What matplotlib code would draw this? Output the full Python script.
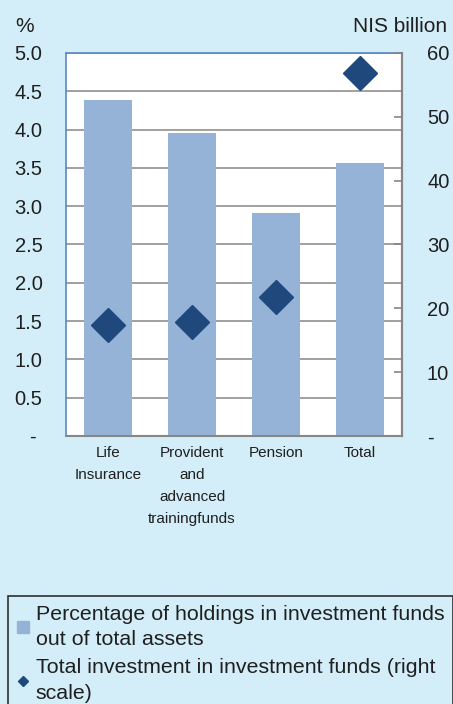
import numpy as np
import matplotlib.pyplot as plt
from matplotlib.lines import Line2D

plt.rcParams['font.family'] = ['Liberation Sans', 'DejaVu Sans']

#Data
categories = ['Life\nInsurance', 'Provident\nand\nadvanced\ntrainingfunds', 'Pension', 'Total']
share_pct = [4.39, 3.96, 2.91, 3.57]          # left scale, %
invest_bn = [17.4, 17.8, 21.7, 56.9]          # right scale, NIS billion
left_ticks = [0, 0.5, 1.0, 1.5, 2.0, 2.5, 3.0, 3.5, 4.0, 4.5, 5.0]
right_ticks = [0, 10, 20, 30, 40, 50, 60]

bg = '#D4EEF9'
bar_col = '#95B3D7'
dia_col = '#1F497D'
grid_col = '#868686'
txt = '#1f1f1f'

fig = plt.figure(figsize=(4.53, 7.04), dpi=100, facecolor=bg)
ax = fig.add_axes([66/453, 1-436/704, 336/453, 383/704])
ax.set_facecolor('white')

x = np.arange(len(categories))
ax.bar(x, share_pct, width=0.57, color=bar_col, zorder=2)
ax.set_xlim(-0.5, len(categories)-0.5)
ax.set_ylim(0, 5)
ax.set_yticks(left_ticks)
ax.set_yticklabels(['- '] + ['{:.1f}'.format(v) for v in left_ticks[1:]], fontsize=14.5, color=txt)
ax.yaxis.grid(True, color=grid_col, linewidth=1.1, zorder=1)
ax.set_axisbelow(True)
ax.tick_params(axis='y', length=0, pad=17)
ax.set_xticks(x)
ax.set_xticklabels(categories, fontsize=11, color=txt, linespacing=1.75)
ax.tick_params(axis='x', length=0, pad=7)

for s in ['left', 'top']:
    ax.spines[s].set_color('#5B87C1')
    ax.spines[s].set_linewidth(1.2)
for s in ['right', 'bottom']:
    ax.spines[s].set_color(grid_col)
    ax.spines[s].set_linewidth(1.5)

ax2 = ax.twinx()
ax2.plot(x, invest_bn, 'D', color=dia_col, markersize=17.5, linestyle='none', zorder=3)
ax2.set_ylim(0, 60)
ax2.set_yticks(right_ticks)
ax2.set_yticklabels(['-'] + [str(v) for v in right_ticks[1:]], fontsize=14.5, color=txt)
ax2.tick_params(axis='y', direction='in', length=6, width=1.2, color=grid_col, pad=18)
for s in ['left', 'top', 'bottom']:
    ax2.spines[s].set_visible(False)
ax2.spines['right'].set_color(grid_col)
ax2.spines['right'].set_linewidth(1.5)

fig.text(15/453, 1-26/704, '%', fontsize=15, color=txt, va='center')
fig.text(447/453, 1-26/704, 'NIS billion', fontsize=15, color=txt, va='center', ha='right')

handles = [
    Line2D([], [], marker='s', color=bar_col, linestyle='none', markersize=8.6),
    Line2D([], [], marker='D', color=dia_col, linestyle='none', markersize=5.2),
]
labels = ['Percentage of holdings in investment funds\nout of total assets',
          'Total investment in investment funds (right\nscale)']
leg = fig.legend(handles, labels, loc='upper left', bbox_to_anchor=(8/453, 1-596/704),
                 fontsize=15.4, frameon=True, fancybox=False, edgecolor='black',
                 facecolor=bg, handlelength=0.6, handletextpad=0.3, borderpad=0.4,
                 labelspacing=0.45, borderaxespad=0)
leg.get_frame().set_linewidth(1.2)
for t in leg.get_texts():
    t.set_color(txt)
    t.set_linespacing(1.42)

fig.savefig('out.png', dpi=100, facecolor=bg)
